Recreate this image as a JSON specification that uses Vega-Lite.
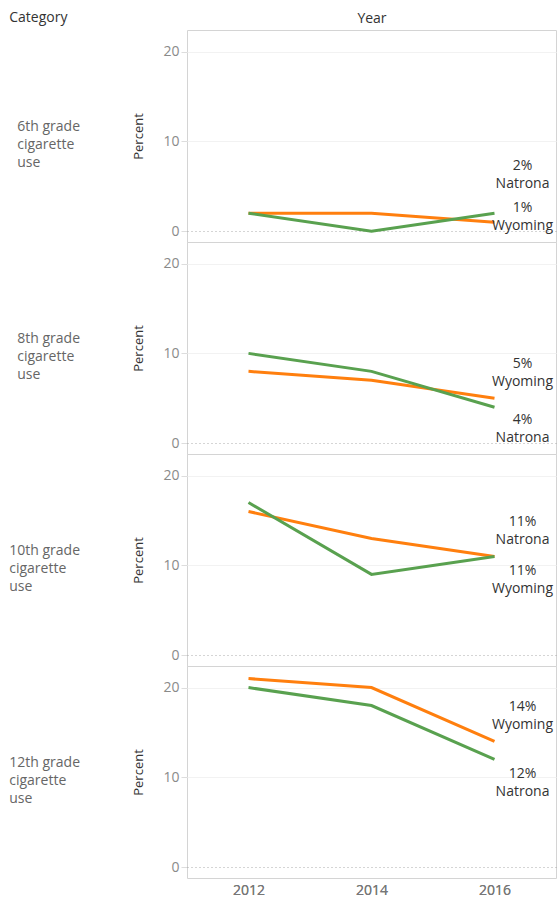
{
  "$schema": "https://vega.github.io/schema/vega-lite/v6.json",
  "padding": {"left": 9, "top": 11, "right": 0, "bottom": 0},
  "bounds": "flush",
  "title": {"text": "Category", "anchor": "start", "frame": "bounds", "offset": -14, "fontSize": 14, "fontWeight": "normal", "color": "#333333", "font": "Open Sans"},
  "config": {
    "font": "Open Sans",
    "view": {"stroke": "#d4d4d4", "strokeWidth": 1},
    "axis": {"labelFont": "Open Sans", "titleFont": "Open Sans"}
  },
  "data": {
    "values": [
      {"Category": "6th grade cigarette use", "Location": "Wyoming", "Year": 2012, "Percent": 2},
      {"Category": "6th grade cigarette use", "Location": "Wyoming", "Year": 2014, "Percent": 2},
      {"Category": "6th grade cigarette use", "Location": "Wyoming", "Year": 2016, "Percent": 1},
      {"Category": "6th grade cigarette use", "Location": "Natrona", "Year": 2012, "Percent": 2},
      {"Category": "6th grade cigarette use", "Location": "Natrona", "Year": 2014, "Percent": 0},
      {"Category": "6th grade cigarette use", "Location": "Natrona", "Year": 2016, "Percent": 2},
      {"Category": "8th grade cigarette use", "Location": "Wyoming", "Year": 2012, "Percent": 8},
      {"Category": "8th grade cigarette use", "Location": "Wyoming", "Year": 2014, "Percent": 7},
      {"Category": "8th grade cigarette use", "Location": "Wyoming", "Year": 2016, "Percent": 5},
      {"Category": "8th grade cigarette use", "Location": "Natrona", "Year": 2012, "Percent": 10},
      {"Category": "8th grade cigarette use", "Location": "Natrona", "Year": 2014, "Percent": 8},
      {"Category": "8th grade cigarette use", "Location": "Natrona", "Year": 2016, "Percent": 4},
      {"Category": "10th grade cigarette use", "Location": "Wyoming", "Year": 2012, "Percent": 16},
      {"Category": "10th grade cigarette use", "Location": "Wyoming", "Year": 2014, "Percent": 13},
      {"Category": "10th grade cigarette use", "Location": "Wyoming", "Year": 2016, "Percent": 11},
      {"Category": "10th grade cigarette use", "Location": "Natrona", "Year": 2012, "Percent": 17},
      {"Category": "10th grade cigarette use", "Location": "Natrona", "Year": 2014, "Percent": 9},
      {"Category": "10th grade cigarette use", "Location": "Natrona", "Year": 2016, "Percent": 11},
      {"Category": "12th grade cigarette use", "Location": "Wyoming", "Year": 2012, "Percent": 21},
      {"Category": "12th grade cigarette use", "Location": "Wyoming", "Year": 2014, "Percent": 20},
      {"Category": "12th grade cigarette use", "Location": "Wyoming", "Year": 2016, "Percent": 14},
      {"Category": "12th grade cigarette use", "Location": "Natrona", "Year": 2012, "Percent": 20},
      {"Category": "12th grade cigarette use", "Location": "Natrona", "Year": 2014, "Percent": 18},
      {"Category": "12th grade cigarette use", "Location": "Natrona", "Year": 2016, "Percent": 12}
    ]
  },
  "spacing": 0,
  "facet": {
    "row": {
      "field": "Category",
      "type": "nominal",
      "sort": ["6th grade cigarette use", "8th grade cigarette use", "10th grade cigarette use", "12th grade cigarette use"],
      "title": null,
      "header": {
        "labelAngle": 0,
        "labelAlign": "left",
        "labelOrient": "left",
        "labelBaseline": "line-bottom",
        "labelFontSize": 14,
        "labelColor": "#666666",
        "labelLineHeight": 18,
        "labelPadding": 53,
        "labelExpr": "split(replace(datum.value, ' cigarette ', (length(datum.value) < 24 ? '\u00a0\u00a0' : '') + '|cigarette|'), '|')"
      }
    }
  },
  "spec": {
    "width": 369,
    "height": 212,
    "encoding": {
      "x": {
        "field": "Year",
        "type": "quantitative",
        "scale": {"domain": [2011, 2017], "nice": false, "zero": false},
        "axis": {
          "orient": "bottom",
          "title": null,
          "values": [2012, 2014, 2016],
          "format": "d",
          "labelFontSize": 14,
          "labelColor": "#777777",
          "labelPadding": 5,
          "ticks": false,
          "domain": false,
          "grid": false
        }
      },
      "y": {
        "field": "Percent",
        "type": "quantitative",
        "scale": {"domain": [-1.2, 22.4], "nice": false, "zero": false},
        "axis": {
          "title": "Percent",
          "values": [0, 10, 20],
          "titleFontSize": 13,
          "titleFontWeight": "normal",
          "titleColor": "#333333",
          "titlePadding": 17,
          "labelFontSize": 14,
          "labelColor": "#8a8a8a",
          "labelPadding": 2,
          "tickColor": "#dddddd",
          "tickSize": 6,
          "domain": false,
          "gridColor": {"condition": {"test": "datum.value === 0", "value": "#aaaaaa"}, "value": "#f2f2f2"},
          "gridDash": {"condition": {"test": "datum.value === 0", "value": [1, 3]}, "value": []}
        }
      }
    },
    "layer": [
      {
        "mark": {"type": "line", "strokeWidth": 3},
        "encoding": {
          "color": {
            "field": "Location",
            "type": "nominal",
            "scale": {"domain": ["Wyoming", "Natrona"], "range": ["#ff7f0e", "#59a14f"]},
            "legend": null
          }
        }
      },
      {
        "transform": [
          {"filter": "datum.Year === 2016"},
          {"window": [{"op": "row_number", "as": "rank"}], "groupby": ["Category", "Year"], "sort": [{"field": "Percent", "order": "descending"}, {"field": "Location", "order": "ascending"}]},
          {"filter": "datum.rank === 1"},
          {"calculate": "format(datum.Percent, 'd') + '%\\n' + datum.Location", "as": "label"},
          {"calculate": "max(datum.Percent, 3.5)", "as": "anchor"}
        ],
        "mark": {"type": "text", "align": "center", "baseline": "bottom", "dx": 28, "dy": -27, "fontSize": 14, "color": "#333333", "lineBreak": "\n", "lineHeight": 18},
        "encoding": {
          "text": {"field": "label", "type": "nominal"},
          "y": {"field": "anchor", "type": "quantitative"},
          "x": {
            "field": "Year",
            "type": "quantitative",
            "axis": {"orient": "top", "title": "Year", "labels": false, "ticks": false, "domain": false, "grid": false, "titleFontSize": 14, "titleFontWeight": "normal", "titleColor": "#333333", "titlePadding": 5}
          }
        }
      },
      {
        "transform": [
          {"filter": "datum.Year === 2016"},
          {"window": [{"op": "row_number", "as": "rank"}], "groupby": ["Category", "Year"], "sort": [{"field": "Percent", "order": "descending"}, {"field": "Location", "order": "ascending"}]},
          {"filter": "datum.rank === 2"},
          {"calculate": "format(datum.Percent, 'd') + '%\\n' + datum.Location", "as": "label"},
          {"calculate": "max(datum.Percent, 4.2)", "as": "anchor"}
        ],
        "mark": {"type": "text", "align": "center", "baseline": "top", "dx": 28, "dy": 8, "fontSize": 14, "color": "#333333", "lineBreak": "\n", "lineHeight": 18},
        "encoding": {
          "text": {"field": "label", "type": "nominal"},
          "y": {"field": "anchor", "type": "quantitative"}
        }
      }
    ]
  }
}
